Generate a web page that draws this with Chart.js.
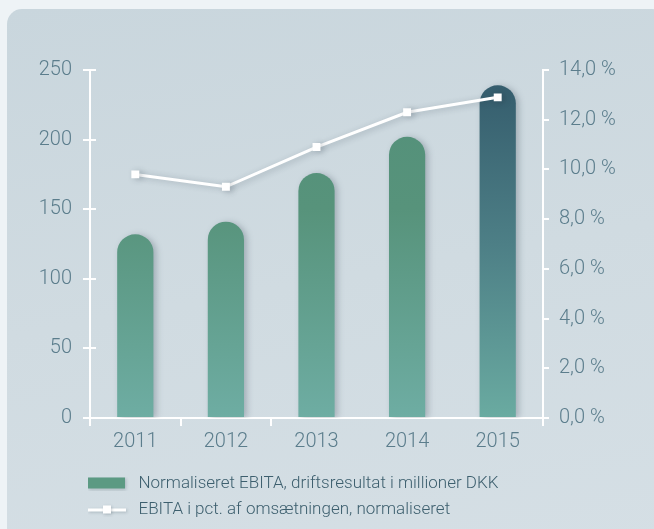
<!DOCTYPE html>
<html>
<head>
<meta charset="utf-8">
<script src="https://cdn.jsdelivr.net/npm/chart.js@4/dist/chart.umd.min.js"></script>
<style>
  html, body { margin: 0; padding: 0; background: #eef3f6; }
  #card {
    position: absolute; left: 7px; top: 9px; width: 660px; height: 540px;
    border-radius: 15px;
    background: linear-gradient(170deg, #c9d6dd 0%, #d0dbe1 50%, #d5dfe5 100%);
  }
  #wrap { position: absolute; left: 0; top: 0; width: 654px; height: 529px; }
</style>
</head>
<body>
<div id="card"></div>
<div id="wrap"><canvas id="myChart" width="654" height="529"></canvas></div>
<script>
'use strict';
// data
let years = ['2011', '2012', '2013', '2014', '2015']
let ebita = [132, 141, 176, 202, 239]
let ebitaPct = [9.8, 9.3, 10.9, 12.3, 12.9]
let barLabel = 'Normaliseret EBITA, driftsresultat i millioner DKK'
let lineLabel = 'EBITA i pct. af omsætningen, normaliseret'

const labelColor = '#5b7d8c'
const tickFont = { family: 'Roboto', size: 20, weight: 300 }
const ctx = document.getElementById('myChart')

function barGradient(context) {
  let chart = context.chart
  let area = chart.chartArea
  if (!area) return '#5a977f'
  let g = chart.ctx.createLinearGradient(0, area.top, 0, area.bottom)
  if (context.dataIndex === 4) {
    g.addColorStop(0, '#335a6b')
    g.addColorStop(0.5, '#4d7f86')
    g.addColorStop(1, '#6aaba1')
  } else {
    g.addColorStop(0, '#53907a')
    g.addColorStop(0.4, '#57937b')
    g.addColorStop(1, '#6eada3')
  }
  return g
}

// legend swatches
function makeSwatch(kind) {
  let c = document.createElement('canvas')
  c.width = 42
  c.height = 14
  let g = c.getContext('2d')
  g.shadowColor = 'rgba(40,60,70,0.25)'
  g.shadowBlur = 3
  g.shadowOffsetX = 1
  g.shadowOffsetY = 1
  if (kind === 'bar') {
    g.fillStyle = '#5c9a83'
    g.fillRect(0, 1, 37, 11)
  } else {
    g.fillStyle = '#ffffff'
    g.fillRect(0, 6, 38, 3)
    g.fillRect(15, 3, 8, 8)
  }
  return c
}
let barSwatch = makeSwatch('bar')
let lineSwatch = makeSwatch('line')

const shadowPlugin = {
  id: 'shadows',
  beforeDatasetDraw(chart, args) {
    let c = chart.ctx
    c.save()
    c.shadowColor = 'rgba(40,55,70,0.28)'
    c.shadowBlur = 6
    c.shadowOffsetX = 3
    c.shadowOffsetY = 1
  },
  afterDatasetDraw(chart) {
    chart.ctx.restore()
  }
}

// left axis ticks cross the axis line; legend sits under the axis
const extras = {
  id: 'extras',
  beforeDraw(chart) {
    chart.legend.left = 79
  },
  afterDraw(chart) {
    let s = chart.scales.y
    let c = chart.ctx
    c.save()
    c.strokeStyle = '#ffffff'
    c.lineWidth = 2
    s.ticks.forEach((t, i) => {
      let y = Math.round(s.getPixelForTick(i))
      c.beginPath()
      c.moveTo(s.right, y)
      c.lineTo(s.right + 6, y)
      c.stroke()
    })
    c.restore()
  }
}

const myChart = new Chart(ctx, {
  data: {
    labels: years,
    datasets: [
      {
        type: 'line',
        label: lineLabel,
        data: ebitaPct,
        yAxisID: 'y1',
        borderColor: '#ffffff',
        borderWidth: 3,
        pointStyle: 'rect',
        pointRadius: 5.6,
        pointBorderWidth: 0,
        pointBackgroundColor: '#ffffff',
        tension: 0,
        order: 0
      },
      {
        type: 'bar',
        label: barLabel,
        data: ebita,
        yAxisID: 'y',
        backgroundColor: barGradient,
        borderRadius: { topLeft: 18, topRight: 18, bottomLeft: 0, bottomRight: 0 },
        borderSkipped: 'bottom',
        barPercentage: 0.4,
        categoryPercentage: 1,
        order: 1
      }
    ]
  },
  options: {
    responsive: false,
    animation: false,
    layout: { padding: { left: 0, right: 0, top: 70, bottom: 1 } },
    plugins: {
      tooltip: { enabled: false },
      legend: {
        position: 'bottom',
        align: 'start',
        reverse: true,
        labels: {
          usePointStyle: true,
          pointStyleWidth: 42,
          boxHeight: 14,
          padding: 9,
          color: '#3d5f6e',
          font: { family: 'Roboto', size: 17, weight: 300 },
          generateLabels(chart) {
            let items = Chart.defaults.plugins.legend.labels.generateLabels(chart)
            items.forEach(it => {
              it.pointStyle = it.datasetIndex === 1 ? barSwatch : lineSwatch
            })
            return items
          }
        }
      }
    },
    scales: {
      x: {
        offset: true,
        border: { color: '#ffffff', width: 2 },
        grid: {
          offset: true,
          drawOnChartArea: false,
          tickLength: 8,
          lineWidth: 2,
          color: c => (c.index === 3 || c.index === 4) ? 'rgba(0,0,0,0)' : '#ffffff'
        },
        ticks: { color: labelColor, font: tickFont, padding: 4 },
        afterFit(s) { s.height = 48 }
      },
      y: {
        position: 'left',
        min: 0,
        max: 250,
        border: { color: '#ffffff', width: 2 },
        grid: { drawOnChartArea: false, tickLength: 7, lineWidth: 2, color: '#ffffff' },
        ticks: { stepSize: 50, color: labelColor, font: tickFont, padding: 11 },
        afterFit(s) { s.width = 90 }
      },
      y1: {
        position: 'right',
        min: 0,
        max: 14,
        border: { color: '#ffffff', width: 2 },
        grid: { drawOnChartArea: false, tickLength: 6, lineWidth: 2, color: '#ffffff' },
        ticks: {
          stepSize: 2,
          color: labelColor,
          font: tickFont,
          padding: 10,
          callback: v => v.toFixed(1).replace('.', ',') + ' %'
        },
        afterFit(s) { s.width = 111 }
      }
    }
  },
  plugins: [shadowPlugin, extras]
})
</script>
</body>
</html>
